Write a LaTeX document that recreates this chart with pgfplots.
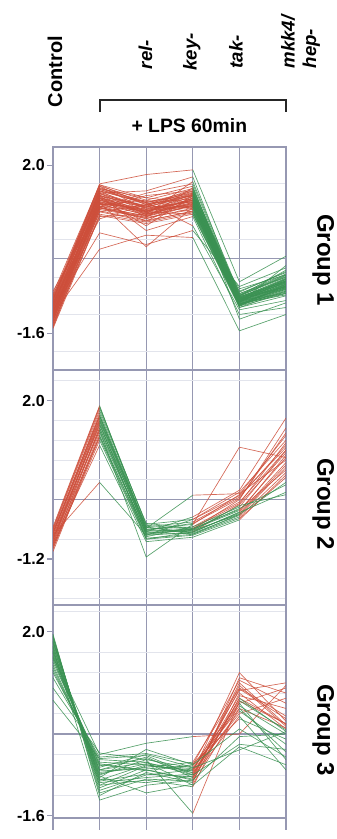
\documentclass[border=0pt]{standalone}
\usepackage{pgfplots}
\usepackage{pgfplotstable}
\pgfplotsset{compat=1.18}
\usepackage{fontspec}
\setmainfont{Liberation Sans}
\definecolor{lr}{RGB}{205,78,58}
\definecolor{lg}{RGB}{58,145,82}
\definecolor{gridc}{RGB}{150,152,178}
\definecolor{fgrid}{RGB}{226,228,236}

% ---------- Group 1 : one row per gene (Control, LPS, rel-, key-, tak-, mkk4/hep-)
\pgfplotstableread{
c0 c1 c2 c3 c4 c5
-1.10 1.30 1.02 1.25 -0.90 -0.55
-0.95 1.42 1.10 1.35 -0.85 -0.48
-1.25 1.15 0.95 1.18 -0.95 -0.62
-1.35 1.05 0.88 1.05 -0.98 -0.70
-0.85 1.52 1.20 1.40 -0.80 -0.40
-1.05 1.28 1.05 1.22 -0.88 -0.52
-1.45 0.95 0.78 0.98 -1.02 -0.75
-0.75 1.58 1.15 1.48 -0.78 -0.35
-1.15 1.22 0.92 1.30 -0.92 -0.58
-1.20 1.35 1.08 1.12 -0.86 -0.60
-1.00 1.18 1.00 1.38 -0.94 -0.45
-1.30 1.10 0.85 1.15 -1.00 -0.66
-0.90 1.45 1.18 1.28 -0.82 -0.50
-1.08 1.25 0.98 1.20 -0.90 -0.56
-1.40 1.00 0.80 1.02 -0.97 -0.72
-0.98 1.38 1.12 1.45 -0.84 -0.42
-1.18 1.20 1.04 1.10 -0.93 -0.63
-1.28 1.12 0.90 1.25 -0.99 -0.59
-0.88 1.50 1.22 1.35 -0.79 -0.38
-1.12 1.32 0.96 1.18 -0.91 -0.54
-1.50 0.92 0.75 0.95 -1.05 -0.80
-0.80 1.55 1.25 1.50 -0.76 -0.33
-1.22 1.18 1.06 1.32 -0.89 -0.61
-1.02 1.40 0.94 1.16 -0.87 -0.47
-1.32 1.08 0.86 1.08 -1.01 -0.68
-0.92 1.48 1.16 1.42 -0.83 -0.44
-1.14 1.26 1.00 1.26 -0.92 -0.57
-1.26 1.16 1.10 1.36 -0.96 -0.64
-0.96 1.36 0.90 1.14 -0.85 -0.49
-1.38 1.02 0.82 1.00 -0.99 -0.74
-1.10 0.55 0.30 0.60 -0.60 -0.20
-0.90 1.60 1.80 1.90 -0.50 0.05
-1.20 0.20 0.50 0.45 -1.55 -1.20
-1.00 1.20 0.25 1.10 -0.70 -0.30
-1.30 1.45 1.20 0.70 -1.10 -0.90
-0.70 1.10 1.40 1.60 -0.80 -0.25
-1.45 1.30 0.70 1.35 -1.30 -0.95
-1.05 0.85 1.15 1.00 -0.65 -0.35
-1.25 1.50 1.30 1.55 -0.95 -0.15
-0.85 1.35 0.60 0.90 -1.20 -1.05
-1.15 1.05 1.35 1.45 -0.88 -0.60
-1.35 1.25 0.95 1.65 -0.75 -0.40
-0.95 1.55 1.05 1.25 -1.05 -0.70
-1.18 1.15 1.25 1.05 -0.92 -0.50
-1.00 1.40 1.45 1.75 -0.85 -0.45
-1.40 0.90 0.95 1.20 -0.98 -0.62
-0.78 1.30 1.10 1.40 -0.72 -0.28
-1.22 1.20 0.80 1.30 -0.90 -0.75
-1.08 1.45 1.00 0.95 -1.00 -0.55
-1.32 1.00 1.15 1.35 -0.82 -0.48
-0.88 1.58 1.30 1.20 -0.94 -0.65
-1.12 1.10 0.88 1.52 -0.86 -0.52
-1.28 1.35 1.12 1.10 -1.02 -0.58
-0.98 1.22 1.02 1.28 -0.90 -0.43
-1.48 1.08 0.92 1.12 -0.96 -0.78
-1.04 1.48 1.20 1.44 -0.81 -0.36
-1.16 1.28 0.98 1.34 -0.93 -0.60
-0.82 1.40 1.08 1.22 -0.88 -0.50
-1.24 1.12 1.02 1.16 -0.97 -0.66
-1.06 1.33 1.14 1.38 -0.87 -0.53
}\gOneRaw
\pgfplotstabletranspose\gOne{\gOneRaw}

% ---------- Group 2
\pgfplotstableread{
c0 c1 c2 c3 c4 c5
-0.80 1.60 -0.60 -0.50 0.10 1.30
-0.70 1.75 -0.55 -0.45 0.05 1.10
-0.95 1.45 -0.70 -0.60 0.00 1.45
-0.60 1.85 -0.50 -0.40 0.15 1.20
-1.05 1.30 -0.75 -0.55 -0.05 1.00
-0.75 1.65 -0.65 -0.35 0.19 1.65
-0.85 1.55 -0.80 -0.65 -0.10 0.95
-0.65 1.70 -0.58 0.09 0.12 0.80
-0.90 1.40 -1.16 -0.50 1.06 0.85
-0.55 1.90 -0.62 -0.48 0.02 1.35
-1.00 1.35 -0.68 -0.58 -0.08 1.15
-0.72 0.35 -0.72 -0.40 0.08 1.05
}\gTwoARaw
\pgfplotstabletranspose\gTwoA{\gTwoARaw}
\pgfplotstableread{
c0 c1 c2 c3 c4 c5
-0.78 1.50 -0.62 -0.62 -0.30 0.70
-0.68 1.62 -0.55 -0.70 -0.35 0.55
-0.88 1.28 -0.72 -0.66 -0.25 0.90
-0.62 1.80 -0.48 -0.58 -0.20 0.60
-0.98 1.20 -0.80 -0.72 -0.38 0.45
-0.82 1.58 -0.66 -0.64 -0.28 0.75
-0.70 1.68 -0.60 -0.55 -0.15 1.00
-0.92 1.10 -0.85 -0.76 -0.41 0.50
-0.58 1.88 -0.52 -0.60 -0.22 0.85
-0.86 1.45 -0.70 -0.68 -0.32 0.65
}\gTwoBRaw
\pgfplotstabletranspose\gTwoB{\gTwoBRaw}
\pgfplotstableread{
c0 c1 c2 c3 c4 c5
-0.74 1.52 -0.64 -0.60 -0.18 0.30
-0.66 1.70 -0.56 -0.66 -0.26 0.15
-0.94 1.25 -0.78 -0.70 -0.30 0.35
-0.80 1.40 -0.68 -0.62 -0.12 0.10
}\gTwoCRaw
\pgfplotstabletranspose\gTwoC{\gTwoCRaw}

% ---------- Group 3
\pgfplotstableread{
c0 c1 c2 c3 c4 c5
1.80 -0.90 -0.60 -0.75 1.20 0.25
1.60 -0.70 -0.45 -0.85 0.95 0.15
1.90 -1.10 -0.80 -0.70 0.85 1.00
1.45 -0.60 -0.70 -0.90 0.70 0.20
1.70 -0.85 -0.30 -0.60 1.05 0.60
1.20 -0.50 -0.55 -0.80 0.60 0.90
1.85 -1.00 -0.90 -1.03 0.80 0.10
1.55 -0.75 -0.65 -0.55 0.90 0.35
1.95 -1.20 -0.75 -0.95 1.10 0.80
1.35 -0.65 -0.40 -0.65 0.50 0.12
1.75 -0.95 -0.85 -0.78 0.75 0.50
1.65 -0.80 -0.50 -1.55 0.65 0.20
1.50 -0.40 -0.18 -0.05 0.00 0.95
1.88 -1.05 -0.70 -0.88 1.00 0.18
1.40 -0.55 -0.60 -0.72 0.40 0.70
1.78 -0.88 -0.95 -0.82 0.88 0.30
}\gThreeARaw
\pgfplotstabletranspose\gThreeA{\gThreeARaw}
\pgfplotstableread{
c0 c1 c2 c3 c4 c5
1.62 -0.78 -0.58 -0.68 0.55 0.00
1.30 -0.62 -0.48 -0.76 0.45 -0.20
1.92 -1.15 -0.88 -0.92 0.70 0.05
1.48 -0.72 -0.68 -0.62 0.60 -0.50
1.72 -0.92 -0.78 -0.84 0.35 -0.70
1.10 -0.45 -0.38 -0.58 0.30 -0.10
1.58 -0.82 -1.15 -0.98 0.50 -0.35
1.82 -1.00 -0.62 -0.70 0.65 0.08
}\gThreeBRaw
\pgfplotstabletranspose\gThreeB{\gThreeBRaw}
\pgfplotstableread{
c0 c1 c2 c3 c4 c5
0.90 -0.37 -0.50 -0.66 -0.31 0.05
0.66 -0.48 -0.42 -0.80 -0.20 -0.30
1.25 -0.58 -0.72 -0.60 0.10 -0.45
1.68 -1.29 -1.00 -0.90 -0.05 0.00
1.52 -0.70 -0.55 -1.00 -0.25 -0.60
}\gThreeCRaw
\pgfplotstabletranspose\gThreeC{\gThreeCRaw}

\pgfplotsset{
  panel/.style={
    scale only axis, width=174.75pt, anchor=north west,
    xmin=0, xmax=5, xtick={0,...,5}, xticklabels={},
    xmajorgrids, ymajorgrids=false, yminorgrids,
    major grid style={gridc, line width=1pt},
    minor grid style={fgrid, line width=0.6pt},
    axis line style={gridc, line width=1pt},
    tick align=outside, xtick style={draw=none},
    ytick style={gridc, line width=0.8pt}, major tick length=4.5pt, minor tick length=0pt,
    ytick pos=left,
    yticklabel style={font=\fontsize{12}{12}\selectfont\bfseries, inner sep=1.5pt},
    extra y ticks={0}, extra y tick labels={},
    extra y tick style={grid=major, major tick length=0pt},
    every axis plot/.append style={line width=0.5pt, opacity=0.85},
  },
  seg/.style={restrict x to domain=#1},
}

\begin{document}
\begin{tikzpicture}
\path[use as bounding box] (0,0) rectangle (252pt,-629.25pt);

% ---- header
\node[rotate=90, anchor=base west, inner sep=0pt, font=\fontsize{15}{15}\selectfont\bfseries] at (46.5pt,-80.5pt) {Control};
\node[rotate=90, anchor=base west, inner sep=0pt, font=\fontsize{14}{14}\selectfont\bfseries\itshape] at (114pt,-52pt) {rel-};
\node[rotate=90, anchor=base west, inner sep=0pt, font=\fontsize{14}{14}\selectfont\bfseries\itshape] at (147.5pt,-53pt) {key-};
\node[rotate=90, anchor=base west, inner sep=0pt, font=\fontsize{14}{14}\selectfont\bfseries\itshape] at (182pt,-51.5pt) {tak-};
\node[rotate=90, anchor=base west, inner sep=0pt, font=\fontsize{14}{14}\selectfont\bfseries\itshape] at (221pt,-51.5pt) {mkk4/};
\node[rotate=90, anchor=base west, inner sep=0pt, font=\fontsize{14}{14}\selectfont\bfseries\itshape] at (237pt,-51.5pt) {hep-};
\draw[black!85, line width=1.5pt] (75pt,-84pt) -- (75pt,-75pt) -- (214.5pt,-75pt) -- (214.5pt,-84pt);
\node[font=\fontsize{14.5}{14.5}\selectfont\bfseries, inner sep=0pt] at (142pt,-94pt) {+ LPS 60min};

% ---- Group labels
\node[rotate=-90, font=\fontsize{18}{18}\selectfont\bfseries, inner sep=0pt] at (242.5pt,-195pt) {Group 1};
\node[rotate=-90, font=\fontsize{18}{18}\selectfont\bfseries, inner sep=0pt] at (242.5pt,-378pt) {Group 2};
\node[rotate=-90, font=\fontsize{18}{18}\selectfont\bfseries, inner sep=0pt] at (242.5pt,-547.5pt) {Group 3};

% ---- Panel 1
\begin{axis}[panel, at={(39.75pt,-110.25pt)}, height=167.25pt,
  ymin=-2.39, ymax=2.39, ytick={-1.6,2.0}, yticklabels={-1.6,2.0},
  minor ytick={-2.0,-1.2,-0.8,-0.4,0.4,0.8,1.2,1.6}]
\pgfplotsinvokeforeach{1,...,60}{
  \addplot[lr, seg=0:3] table[x expr=\coordindex, y index=#1]{\gOne};
  \addplot[lg, seg=3:5] table[x expr=\coordindex, y index=#1]{\gOne};
}
\end{axis}

% ---- Panel 2
\begin{axis}[panel, at={(39.75pt,-277.5pt)}, height=176.25pt,
  ymin=-2.13, ymax=2.62, ytick={-1.2,2.0}, yticklabels={-1.2,2.0},
  minor ytick={-2.0,-1.6,-0.8,-0.4,0.4,0.8,1.2,1.6,2.4}]
\pgfplotsinvokeforeach{1,...,12}{
  \addplot[lr, seg=0:1] table[x expr=\coordindex, y index=#1]{\gTwoA};
  \addplot[lg, seg=1:3] table[x expr=\coordindex, y index=#1]{\gTwoA};
  \addplot[lr, seg=3:5] table[x expr=\coordindex, y index=#1]{\gTwoA};
}
\pgfplotsinvokeforeach{1,...,10}{
  \addplot[lr, seg=0:1] table[x expr=\coordindex, y index=#1]{\gTwoB};
  \addplot[lg, seg=1:4] table[x expr=\coordindex, y index=#1]{\gTwoB};
  \addplot[lr, seg=4:5] table[x expr=\coordindex, y index=#1]{\gTwoB};
}
\pgfplotsinvokeforeach{1,...,4}{
  \addplot[lr, seg=0:1] table[x expr=\coordindex, y index=#1]{\gTwoC};
  \addplot[lg, seg=1:5] table[x expr=\coordindex, y index=#1]{\gTwoC};
}
\end{axis}

% ---- Panel 3
\begin{axis}[panel, at={(39.75pt,-453.75pt)}, height=159.75pt, clip=false,
  ymin=-1.64, ymax=2.52, ytick={-1.6,2.0}, yticklabels={-1.6,2.0},
  minor ytick={-1.2,-0.8,-0.4,0.4,0.8,1.2,1.6,2.4}]
\pgfplotsinvokeforeach{1,...,16}{
  \addplot[lg, seg=0:3] table[x expr=\coordindex, y index=#1]{\gThreeA};
  \addplot[lr, seg=3:5] table[x expr=\coordindex, y index=#1]{\gThreeA};
}
\pgfplotsinvokeforeach{1,...,8}{
  \addplot[lg, seg=0:3] table[x expr=\coordindex, y index=#1]{\gThreeB};
  \addplot[lr, seg=3:4] table[x expr=\coordindex, y index=#1]{\gThreeB};
  \addplot[lg, seg=4:5] table[x expr=\coordindex, y index=#1]{\gThreeB};
}
\pgfplotsinvokeforeach{1,...,5}{
  \addplot[lg, seg=0:5] table[x expr=\coordindex, y index=#1]{\gThreeC};
}
\pgfplotsinvokeforeach{0,...,5}{
  \draw[gridc, line width=1pt] (axis cs:#1,-1.64) -- ++(0pt,-9pt);
}
\end{axis}
\end{tikzpicture}
\end{document}
